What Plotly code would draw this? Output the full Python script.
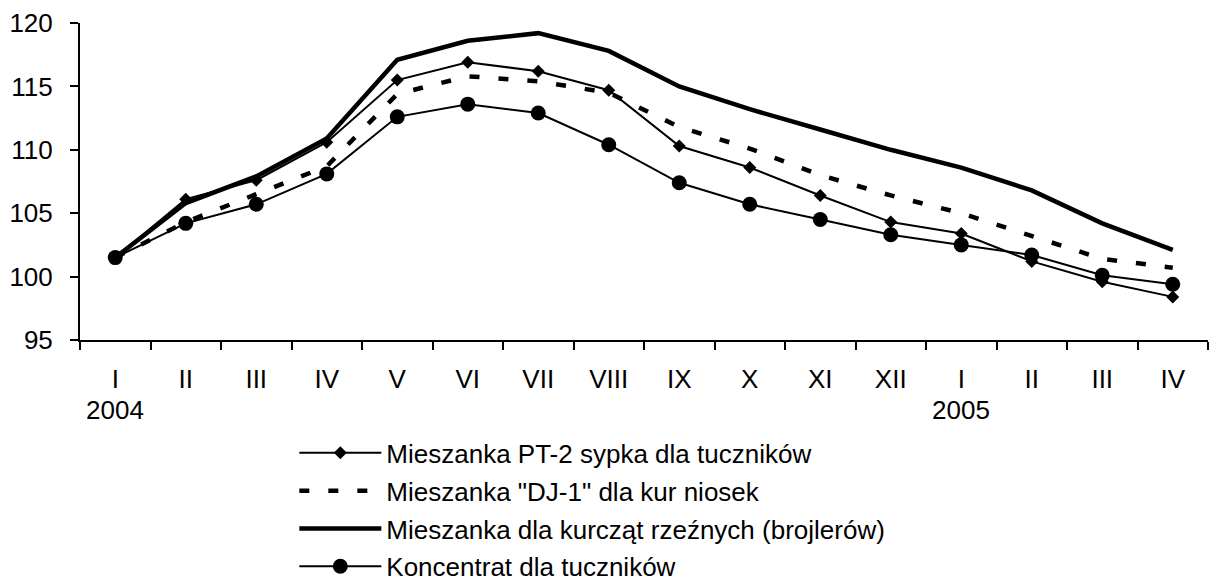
import plotly.graph_objects as go

months = ["I", "II", "III", "IV", "V", "VI", "VII", "VIII", "IX", "X", "XI", "XII", "I", "II", "III", "IV"]
year_labels = ["2004", "2005"]
year_start_index = [0, 12]

pt2 = [101.5, 106.1, 107.6, 110.6, 115.5, 116.9, 116.2, 114.7, 110.3, 108.6, 106.4, 104.3, 103.4, 101.2, 99.6, 98.4]
dj1 = [101.5, 104.3, 106.5, 108.7, 114.4, 115.8, 115.4, 114.5, 111.8, 110.1, 108.0, 106.4, 105.0, 103.2, 101.4, 100.7]
broj = [101.5, 105.8, 107.9, 110.9, 117.1, 118.6, 119.2, 117.8, 115.0, 113.2, 111.6, 110.0, 108.6, 106.8, 104.2, 102.1]
konc = [101.5, 104.2, 105.7, 108.1, 112.6, 113.6, 112.9, 110.4, 107.4, 105.7, 104.5, 103.3, 102.5, 101.7, 100.1, 99.4]

names = [
    "Mieszanka PT-2 sypka dla tuczników",
    "Mieszanka \"DJ-1\" dla kur niosek",
    "Mieszanka dla kurcząt rzeźnych (brojlerów)",
    "Koncentrat dla tuczników",
]

x = list(range(len(months)))
FONT = "Liberation Sans, Arial, sans-serif"

fig = go.Figure()
fig.add_trace(go.Scatter(x=x, y=pt2, name=names[0], legendgroup="a", mode="lines+markers",
                         line=dict(color="black", width=2),
                         marker=dict(symbol="diamond", size=10, color="black")))
fig.add_trace(go.Scatter(x=x, y=dj1, name=names[1], legendgroup="b", mode="lines",
                         line=dict(color="black", width=4.5, dash="10px,19px")))
fig.add_trace(go.Scatter(x=x, y=broj, name=names[2], legendgroup="c", mode="lines",
                         line=dict(color="black", width=4.5)))
fig.add_trace(go.Scatter(x=x, y=konc, name=names[3], legendgroup="d", mode="lines+markers",
                         line=dict(color="black", width=2),
                         marker=dict(symbol="circle", size=15, color="black")))

for lbl, idx in zip(year_labels, year_start_index):
    fig.add_annotation(x=idx, y=-0.22, xref="x", yref="paper", text=lbl,
                       showarrow=False, font=dict(family=FONT, size=26, color="black"),
                       xanchor="center", yanchor="middle")

fig.update_layout(
    template="none",
    width=1210, height=584,
    margin=dict(l=80, r=2, t=23, b=244, autoexpand=False),
    paper_bgcolor="white", plot_bgcolor="white",
    font=dict(family=FONT, size=26, color="black"),
    showlegend=True,
    legend=dict(x=0.19, y=-0.79, xanchor="left", yanchor="bottom",
                font=dict(family=FONT, size=26, color="black"),
                itemwidth=82, tracegroupgap=1, bgcolor="rgba(0,0,0,0)",
                borderwidth=0),
    xaxis=dict(range=[-0.5, len(months) - 0.5], tickmode="array", tickvals=x, ticktext=months,
               ticks="", showgrid=False, zeroline=False, showline=True, linecolor="black",
               linewidth=2, ticklabelstandoff=15, automargin=False,
               minor=dict(tick0=-0.5, dtick=1, ticks="outside", ticklen=8, tickwidth=2,
                          tickcolor="black", showgrid=False)),
    yaxis=dict(range=[95, 120], dtick=5, ticks="outside", ticklen=8, tickwidth=2,
               tickcolor="black", showgrid=False, zeroline=False, showline=True,
               linecolor="black", linewidth=2, ticklabelstandoff=12, automargin=False),
)

fig.write_html("out.html", config={"displayModeBar": False},
               post_script="document.body.style.margin='0';")
